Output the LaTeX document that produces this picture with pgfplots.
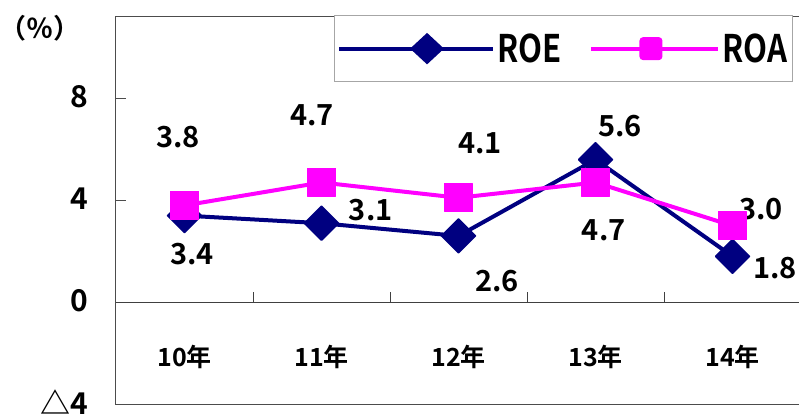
\documentclass[border=0pt]{standalone}
\usepackage{pgfplots}
\pgfplotsset{compat=1.18}
\usepackage{fontspec}
\setmainfont{Noto Sans CJK JP Bold}
\newfontfamily\legfont{Noto Sans CJK JP Bold}[FakeStretch=0.82]
\definecolor{roe}{HTML}{000080}
\definecolor{roa}{HTML}{FF00FF}
\begin{document}
\begin{tikzpicture}
\begin{axis}[
 name=ax, at={(0,0)}, anchor=south west,
 scale only axis, width=685bp, height=387bp,
 xmin=-0.5, xmax=4.5, ymin=-4, ymax=11.2,
 clip=false,
 axis line style={draw=black!70, line width=1bp},
 xtick={0,1,2,3,4}, xticklabels={10年,11年,12年,13年,14年},
 major x tick style={draw=none},
 xticklabel style={font=\fontsize{25bp}{25bp}\selectfont, anchor=center, yshift=47bp},
 ytick={-4,0,4,8}, yticklabels={△4,0,4,8},
 ytick pos=left,
 major tick length=10bp,
 ytick style={draw=black!70, line width=1bp},
 yticklabel style={font=\fontsize{30bp}{30bp}\selectfont, anchor=east, inner sep=0pt, xshift=-28bp, yshift=1.5bp},
 legend style={at={(rel axis cs:0.988,1.005)}, anchor=north east, draw=black!35, line width=1bp,
   font=\legfont\fontsize{38bp}{38bp}\selectfont, inner xsep=3bp, inner ysep=16bp,
   /tikz/every even column/.append style={column sep=26bp}},
 legend columns=2,
]
\addplot[roe, line width=4bp, mark=square*, mark size=12bp, mark options={rotate=45, line width=1.5bp, line join=round, fill=roe},
  legend image code/.code={\path (-26bp,0bp) -- (0bp,0bp); \draw[roe, line width=4bp] (0bp,0bp) -- (128bp,0bp);
    \fill[roe] (62bp,13bp) -- (76bp,0bp) -- (62bp,-13bp) -- (48bp,0bp) -- cycle;}]
  coordinates {(0,3.4) (1,3.1) (2,2.6) (3,5.6) (4,1.8)};
\addlegendentry{ROE}
\addplot[roa, line width=4bp, mark=square*, mark size=14bp, mark options={line width=1bp, line join=round, fill=roa},
  legend image code/.code={\draw[roa, line width=4bp] (0bp,0bp) -- (127bp,0bp);
    \fill[roa, rounded corners=2bp] (50bp,-9.5bp) rectangle (69bp,9.5bp);}]
  coordinates {(0,3.8) (1,4.7) (2,4.1) (3,4.7) (4,3.0)};
\addlegendentry{ROA}
\draw[black!75, line width=1.2bp] (axis cs:-0.5,0) -- (axis cs:4.5,0);
\pgfplotsinvokeforeach{0.5,1.5,2.5,3.5}{\draw[black!75, line width=1bp] (axis cs:#1,0) -- ([yshift=10bp]axis cs:#1,0);}
\begin{scope}[every node/.style={font=\fontsize{29bp}{29bp}\selectfont}]
\node at (axis cs:-0.047,6.47) {3.8};
\node at (axis cs:0.055,1.88) {3.4};
\node at (axis cs:0.93,7.33) {4.7};
\node at (axis cs:1.36,3.61) {3.1};
\node at (axis cs:2.157,6.24) {4.1};
\node at (axis cs:2.28,0.82) {2.6};
\node at (axis cs:3.18,6.9) {5.6};
\node at (axis cs:3.06,2.82) {4.7};
\node at (axis cs:4.21,3.65) {3.0};
\node at (axis cs:4.31,1.33) {1.8};
\end{scope}
\end{axis}
\node[font=\fontsize{27bp}{27bp}\selectfont, inner sep=0pt] at ([xshift=-76bp,yshift=-11bp]ax.north west) {（％）};
\pgfresetboundingbox
\path[use as bounding box] ([xshift=-116bp,yshift=-12bp]ax.south west) rectangle ([xshift=683bp,yshift=404bp]ax.south west);
\end{tikzpicture}
\end{document}
